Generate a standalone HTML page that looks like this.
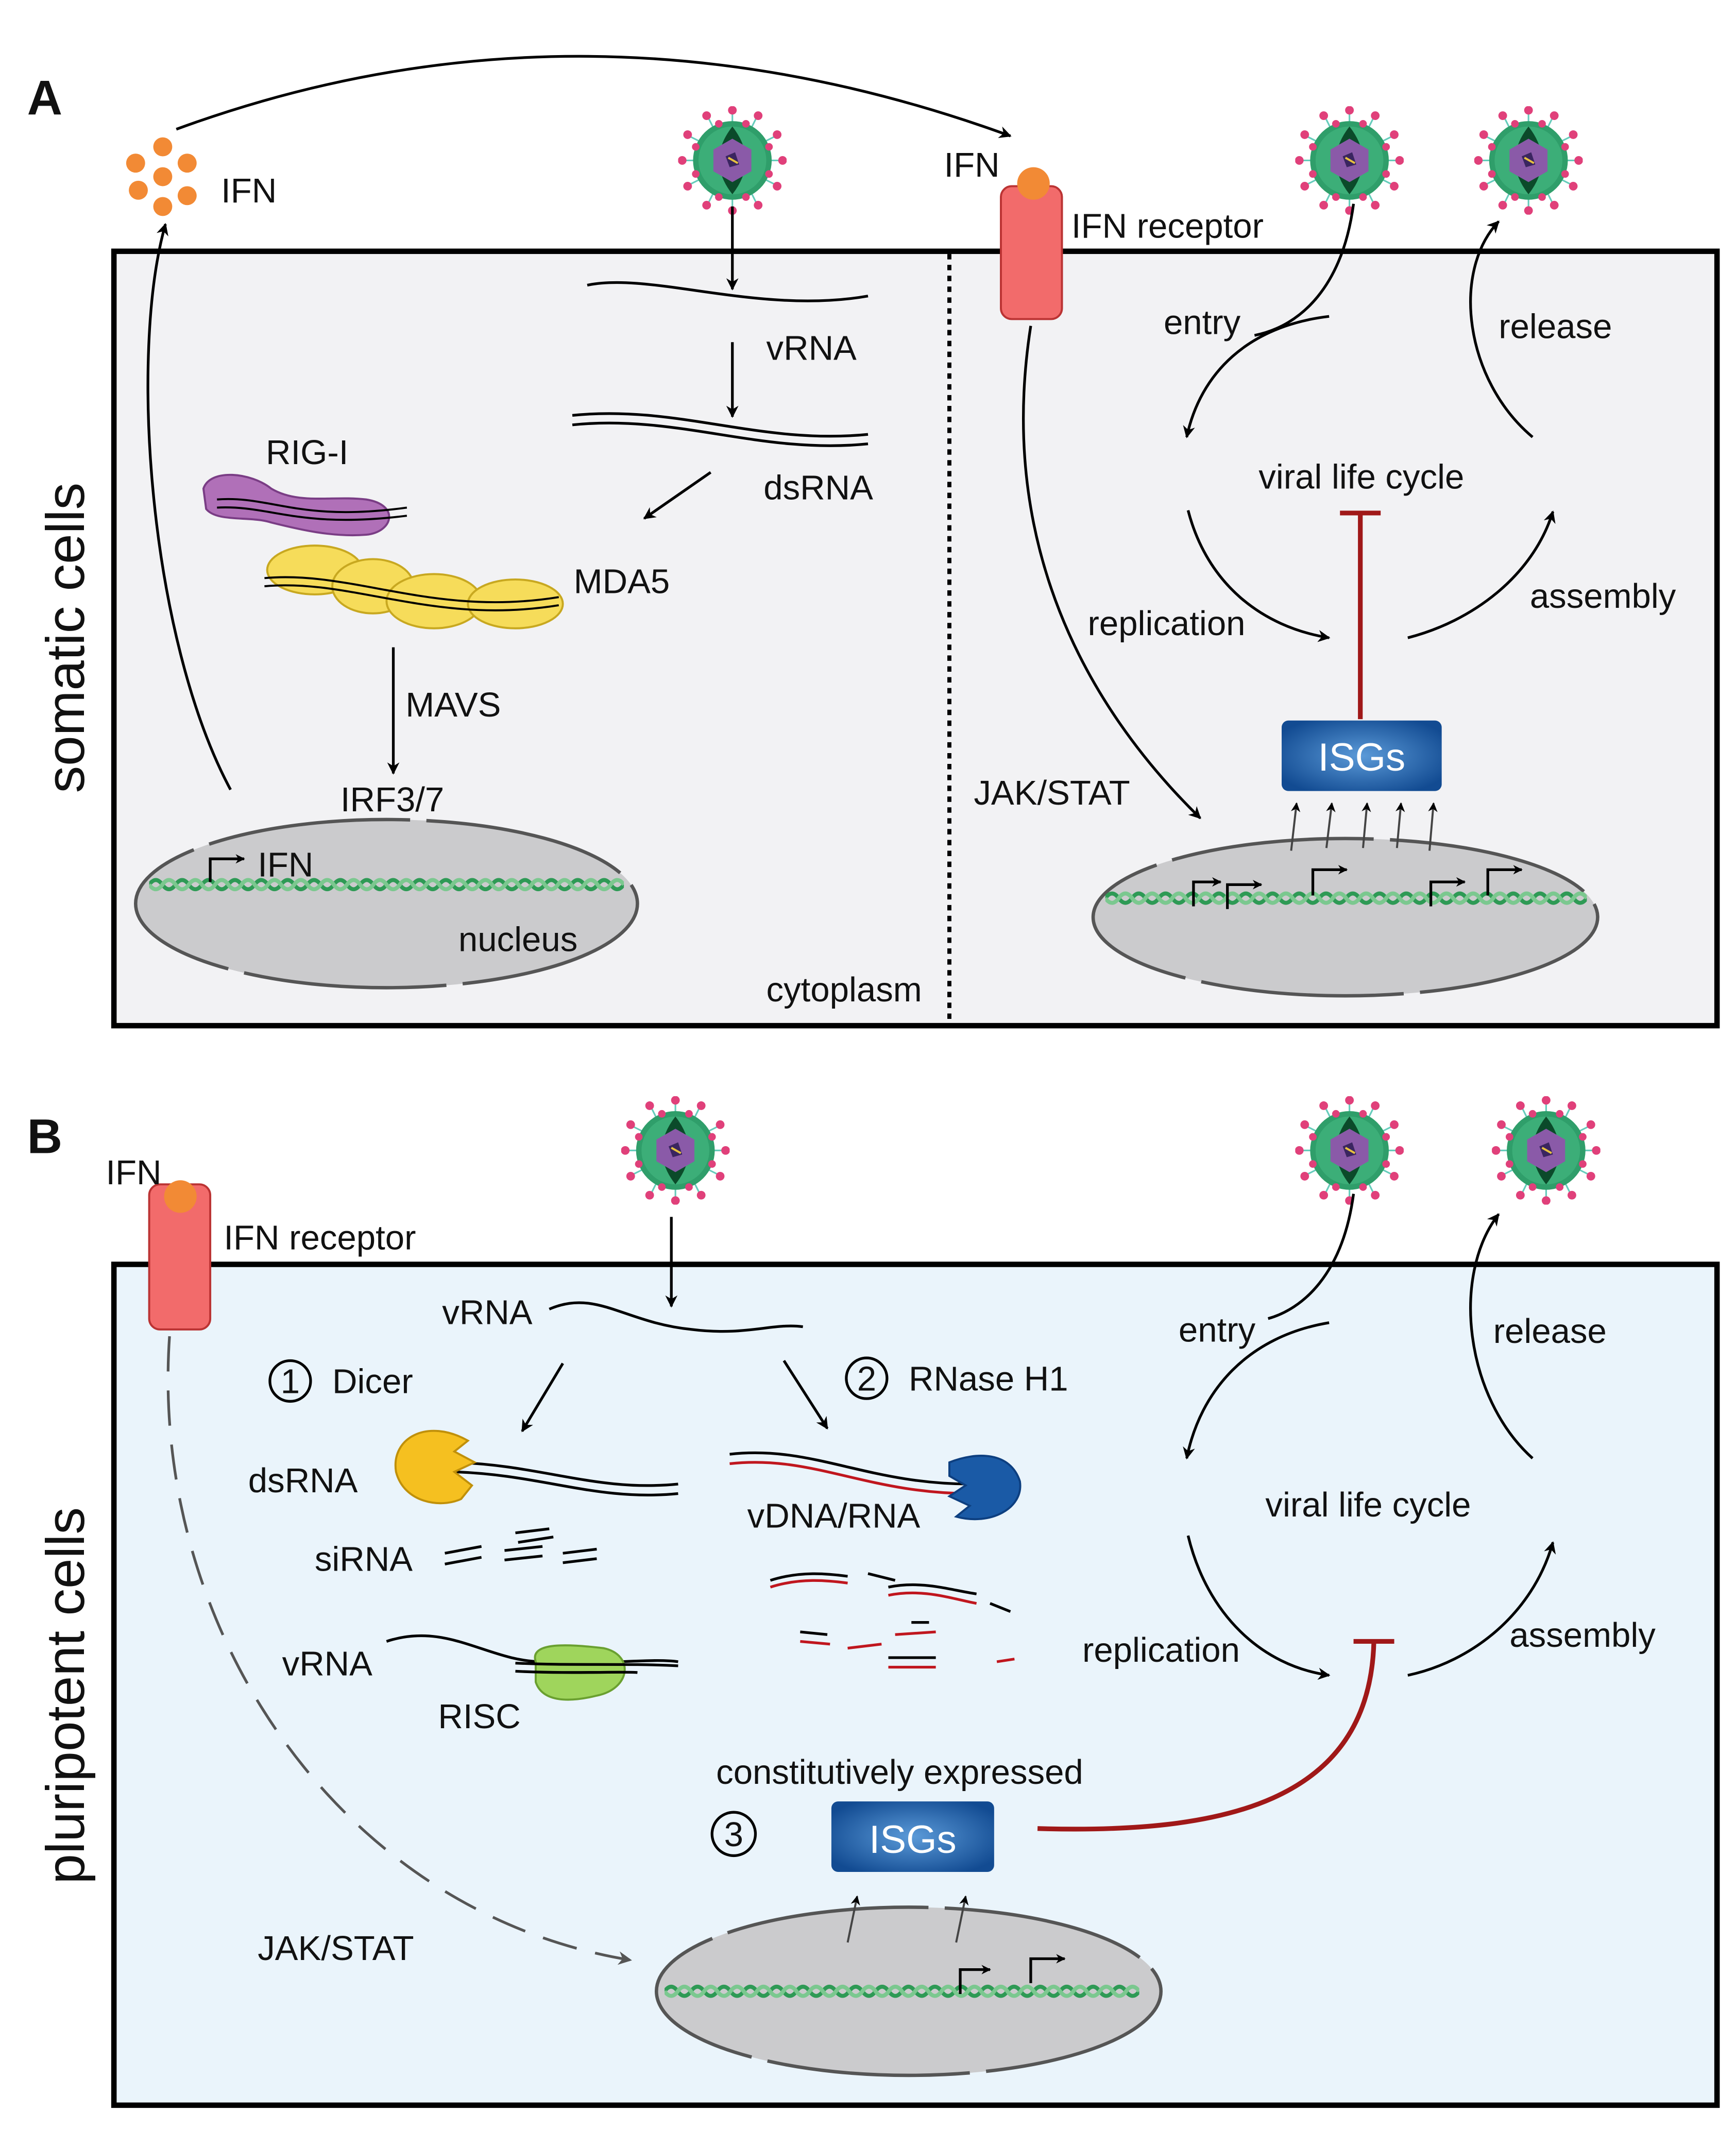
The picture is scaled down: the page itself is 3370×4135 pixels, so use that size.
<!DOCTYPE html>
<html><head><meta charset="utf-8"><style>
html,body{margin:0;padding:0;background:#fff}
svg{display:block}
text{font-family:"Liberation Sans",sans-serif;fill:#111}
</style></head><body>
<svg width="3370" height="4135" viewBox="0 0 1280 1570" xmlns="http://www.w3.org/2000/svg">
<defs>
<marker id="ar" viewBox="0 0 10 10" refX="9" refY="5" markerWidth="9" markerHeight="9" markerUnits="userSpaceOnUse" orient="auto"><path d="M0,0 L10,5 L0,10 L3,5 z" fill="#000"/></marker>
<marker id="arg" viewBox="0 0 10 10" refX="9" refY="5" markerWidth="10" markerHeight="10" markerUnits="userSpaceOnUse" orient="auto"><path d="M0,0 L10,5 L0,10 L3,5 z" fill="#555"/></marker>
<marker id="ars" viewBox="0 0 10 10" refX="9" refY="5" markerWidth="7" markerHeight="7" markerUnits="userSpaceOnUse" orient="auto"><path d="M0,0 L10,5 L0,10 L3,5 z" fill="#000"/></marker>
<radialGradient id="isgr" cx="0.5" cy="0.5" r="0.6"><stop offset="0" stop-color="#5b9ad8"/><stop offset="1" stop-color="#124b92"/></radialGradient>
<symbol id="virus" viewBox="-40 -40 80 80">
<g stroke="#6cb" stroke-width="1.2">
<line x1="0" y1="-28" x2="0" y2="-36"/><line x1="14" y1="-24" x2="18" y2="-32"/><line x1="24" y1="-14" x2="32" y2="-18"/><line x1="28" y1="0" x2="36" y2="0"/><line x1="24" y1="14" x2="32" y2="18"/><line x1="14" y1="24" x2="18" y2="32"/><line x1="0" y1="28" x2="0" y2="36"/><line x1="-14" y1="24" x2="-18" y2="32"/><line x1="-24" y1="14" x2="-32" y2="18"/><line x1="-28" y1="0" x2="-36" y2="0"/><line x1="-24" y1="-14" x2="-32" y2="-18"/><line x1="-14" y1="-24" x2="-18" y2="-32"/>
</g>
<circle r="29" fill="#2f9e6a"/><circle r="25" fill="#3cae78"/>
<path d="M0,-25 Q-14,0 0,25 Q14,0 0,-25" fill="#0b4a2a" transform="scale(1.4,1)"/>
<polygon points="0,-16 14,-8 14,8 0,16 -14,8 -14,-8" fill="#8a5aa8"/>
<path d="M-5,-3 L2,-6 L5,3 L-2,5z" fill="#3a2560"/><path d="M-3,-2 L4,2" stroke="#e6c040" stroke-width="1.5"/>
<g fill="#e0407a">
<circle cx="0" cy="-37" r="3.2"/><circle cx="19" cy="-33" r="3.2"/><circle cx="33" cy="-19" r="3.2"/><circle cx="37" cy="0" r="3.2"/><circle cx="33" cy="19" r="3.2"/><circle cx="19" cy="33" r="3.2"/><circle cx="0" cy="37" r="3.2"/><circle cx="-19" cy="33" r="3.2"/><circle cx="-33" cy="19" r="3.2"/><circle cx="-37" cy="0" r="3.2"/><circle cx="-33" cy="-19" r="3.2"/><circle cx="-19" cy="-33" r="3.2"/>
<circle cx="-10" cy="-27" r="2.8"/><circle cx="10" cy="-27" r="2.8"/><circle cx="27" cy="-10" r="2.8"/><circle cx="27" cy="10" r="2.8"/><circle cx="-27" cy="10" r="2.8"/><circle cx="-27" cy="-10" r="2.8"/><circle cx="10" cy="27" r="2.8"/><circle cx="-10" cy="27" r="2.8"/>
</g>
</symbol>
<symbol id="dna" viewBox="0 0 360 20">
<path d="M0,10 q5,-7 10,0 t10,0 t10,0 t10,0 t10,0 t10,0 t10,0 t10,0 t10,0 t10,0 t10,0 t10,0 t10,0 t10,0 t10,0 t10,0 t10,0 t10,0 t10,0 t10,0 t10,0 t10,0 t10,0 t10,0 t10,0 t10,0 t10,0 t10,0 t10,0 t10,0 t10,0 t10,0 t10,0 t10,0 t10,0 t10,0" fill="none" stroke="#2e9a55" stroke-width="3"/>
<path d="M0,10 q5,7 10,0 t10,0 t10,0 t10,0 t10,0 t10,0 t10,0 t10,0 t10,0 t10,0 t10,0 t10,0 t10,0 t10,0 t10,0 t10,0 t10,0 t10,0 t10,0 t10,0 t10,0 t10,0 t10,0 t10,0 t10,0 t10,0 t10,0 t10,0 t10,0 t10,0 t10,0 t10,0 t10,0 t10,0 t10,0 t10,0" fill="none" stroke="#7bc88f" stroke-width="3"/>
</symbol>
</defs>

<text x="20" y="84" font-size="36" font-weight="bold">A</text>
<text x="20" y="850" font-size="36" font-weight="bold">B</text>

<rect x="84" y="185" width="1182" height="571" fill="#f2f2f4" stroke="#000" stroke-width="4"/>
<rect x="84" y="932" width="1182" height="620" fill="#eaf4fb" stroke="#000" stroke-width="4"/>
<line x1="700" y1="187" x2="700" y2="752" stroke="#000" stroke-width="3" stroke-dasharray="4,4"/>

<text transform="translate(62,470) rotate(-90)" font-size="40" text-anchor="middle">somatic cells</text>
<text transform="translate(62,1250) rotate(-90)" font-size="40" text-anchor="middle">pluripotent cells</text>

<g fill="#cbcbcd" stroke="#555" stroke-width="2.5" stroke-dasharray="150,12">
<ellipse cx="285" cy="666" rx="185" ry="62"/>
<ellipse cx="992" cy="676" rx="186" ry="58"/>
<ellipse cx="670" cy="1468" rx="186" ry="62"/>
</g>
<use href="#dna" x="110" y="642" width="350" height="20"/>
<use href="#dna" x="815" y="652" width="355" height="20"/>
<use href="#dna" x="490" y="1458" width="350" height="20"/>

<g fill="none" stroke="#000" stroke-width="2" marker-end="url(#ars)">
<path d="M155,650 V633 H180"/>
<path d="M880,668 V650 H900"/><path d="M905,670 V652 H930"/><path d="M968,660 V641 H993"/><path d="M1055,668 V650 H1080"/><path d="M1097,660 V641 H1122"/>
<path d="M708,1470 V1452 H730"/><path d="M760,1462 V1444 H785"/>
</g>

<use href="#virus" x="500" y="78" width="80" height="80"/>
<use href="#virus" x="955" y="78" width="80" height="80"/>
<use href="#virus" x="1087" y="78" width="80" height="80"/>
<use href="#virus" x="458" y="808" width="80" height="80"/>
<use href="#virus" x="955" y="808" width="80" height="80"/>
<use href="#virus" x="1100" y="808" width="80" height="80"/>

<g fill="#f28a35">
<circle cx="100" cy="120" r="7"/><circle cx="120" cy="108" r="7"/><circle cx="102" cy="140" r="7"/><circle cx="120" cy="130" r="7"/><circle cx="138" cy="120" r="7"/><circle cx="120" cy="152" r="7"/><circle cx="138" cy="144" r="7"/>
</g>
<text x="163" y="149" font-size="25.5">IFN</text>

<rect x="738" y="137" width="45" height="98" rx="8" fill="#f26b6b" stroke="#b33" stroke-width="1.5"/>
<circle cx="762" cy="135" r="12" fill="#f28a35"/>
<text x="696" y="130" font-size="25.5">IFN</text>
<text x="790" y="175" font-size="25.5">IFN receptor</text>
<rect x="110" y="873" width="45" height="107" rx="8" fill="#f26b6b" stroke="#b33" stroke-width="1.5"/>
<circle cx="133" cy="882" r="12" fill="#f28a35"/>
<text x="78" y="873" font-size="25.5">IFN</text>
<text x="165" y="921" font-size="25.5">IFN receptor</text>

<g fill="none" stroke="#000" stroke-width="2" marker-end="url(#ar)">
<path d="M130,95 Q430,-15 745,100"/>
<path d="M170,582 C110,470 95,260 122,165"/>
<path d="M540,152 V213"/>
<path d="M540,252 V307"/>
<path d="M524,348 L475,382"/>
<path d="M290,477 V570"/>
<path d="M760,240 C735,400 800,520 885,603"/>
<path d="M980,233 C920,240 885,275 875,322"/>
<path d="M1130,322 C1080,280 1070,200 1105,163"/>
<path d="M876,376 C890,430 930,462 980,470"/>
<path d="M1038,470 C1085,458 1130,425 1145,377"/>
</g>
<path d="M998,150 C990,210 960,240 925,247" fill="none" stroke="#000" stroke-width="2"/>
<g fill="none" stroke="#444" stroke-width="1.5" marker-end="url(#ars)">
<path d="M952,627 L956,592"/><path d="M978,625 L982,592"/><path d="M1005,625 L1008,592"/><path d="M1030,625 L1033,592"/><path d="M1054,627 L1057,592"/>
<path d="M625,1432 L632,1398"/><path d="M705,1432 L712,1398"/>
</g>

<path d="M433,210 C480,200 560,232 640,218" fill="none" stroke="#000" stroke-width="2"/>
<path d="M422,306 C500,298 560,328 640,320" fill="none" stroke="#000" stroke-width="2"/>
<path d="M422,313 C500,305 560,335 640,327" fill="none" stroke="#000" stroke-width="2"/>

<path d="M150,360 C155,345 185,348 200,360 C220,372 245,365 270,368 C295,372 290,392 270,394 C245,396 220,390 200,385 C185,380 160,385 152,375 Z" fill="#b070b8" stroke="#7a3d85" stroke-width="1.5"/>
<path d="M160,368 C200,365 220,385 300,374" fill="none" stroke="#000" stroke-width="1.5"/>
<path d="M160,374 C200,372 220,390 300,380" fill="none" stroke="#000" stroke-width="1.5"/>
<g fill="#f6dc5a" stroke="#c8a820" stroke-width="1.5">
<ellipse cx="232" cy="420" rx="35" ry="18"/><ellipse cx="275" cy="432" rx="30" ry="20"/><ellipse cx="320" cy="443" rx="35" ry="20"/><ellipse cx="380" cy="445" rx="35" ry="18"/>
</g>
<path d="M195,426 C260,420 320,455 412,440" fill="none" stroke="#000" stroke-width="1.5"/>
<path d="M195,432 C260,426 320,461 412,446" fill="none" stroke="#000" stroke-width="1.5"/>

<g font-size="25.5">
<text x="565" y="265">vRNA</text>
<text x="563" y="368">dsRNA</text>
<text x="196" y="342">RIG-I</text>
<text x="423" y="437">MDA5</text>
<text x="299" y="528">MAVS</text>
<text x="251" y="598">IRF3/7</text>
<text x="190" y="646">IFN</text>
<text x="338" y="701">nucleus</text>
<text x="565" y="738">cytoplasm</text>
<text x="718" y="593">JAK/STAT</text>
<text x="858" y="246">entry</text>
<text x="1105" y="249">release</text>
<text x="928" y="360">viral life cycle</text>
<text x="802" y="468">replication</text>
<text x="1128" y="448">assembly</text>
</g>

<rect x="945" y="531" width="118" height="52" rx="5" fill="url(#isgr)"/>
<text x="1004" y="568" font-size="29" text-anchor="middle" style="fill:#fff">ISGs</text>
<path d="M1003,530 V378 M988,378 H1018" stroke="#a01818" stroke-width="3.5" fill="none"/>

<g fill="none" stroke="#000" stroke-width="2" marker-end="url(#ar)">
<path d="M495,897 V963"/>
<path d="M415,1005 L385,1055"/>
<path d="M578,1003 L610,1053"/>
<path d="M980,975 C920,985 885,1025 875,1075"/>
<path d="M1130,1075 C1080,1030 1070,940 1105,895"/>
<path d="M876,1132 C890,1190 930,1228 980,1235"/>
<path d="M1038,1235 C1085,1225 1130,1190 1145,1137"/>
</g>
<path d="M998,880 C990,940 960,965 935,972" fill="none" stroke="#000" stroke-width="2"/>
<path d="M125,985 C110,1200 250,1410 465,1445" fill="none" stroke="#555" stroke-width="2" stroke-dasharray="26,14" marker-end="url(#arg)"/>
<path d="M765,1348 C900,1352 1010,1330 1013,1210 M998,1210 H1028" stroke="#a01818" stroke-width="3.5" fill="none"/>

<path d="M405,965 C440,950 460,975 510,980 C550,985 570,975 592,978" fill="none" stroke="#000" stroke-width="2"/>
<path d="M335,1078 C400,1080 440,1100 500,1094" fill="none" stroke="#000" stroke-width="2"/>
<path d="M335,1085 C400,1087 440,1107 500,1101" fill="none" stroke="#000" stroke-width="2"/>
<path d="M345,1062 L335,1070 L350,1078 L335,1085 L348,1095 L340,1105 C325,1112 298,1108 292,1085 C288,1060 315,1045 345,1062 Z" fill="#f5c020" stroke="#c0900a" stroke-width="1.5"/>
<path d="M538,1072 C600,1065 640,1095 720,1094" fill="none" stroke="#000" stroke-width="2"/>
<path d="M538,1079 C600,1072 640,1102 720,1101" fill="none" stroke="#c0161e" stroke-width="2"/>
<path d="M700,1078 C720,1070 745,1070 752,1092 C755,1112 730,1125 705,1118 L715,1110 L700,1103 L712,1095 L700,1088 Z" fill="#1a5aa6" stroke="#0d3f80" stroke-width="1.5"/>
<g stroke="#000" stroke-width="2">
<line x1="328" y1="1145" x2="355" y2="1140"/><line x1="328" y1="1153" x2="355" y2="1148"/>
<line x1="372" y1="1143" x2="400" y2="1140"/><line x1="372" y1="1150" x2="400" y2="1147"/>
<line x1="380" y1="1130" x2="405" y2="1127"/><line x1="382" y1="1137" x2="408" y2="1133"/>
<line x1="415" y1="1145" x2="440" y2="1142"/><line x1="415" y1="1152" x2="440" y2="1149"/>
</g>
<g stroke-width="2" fill="none">
<path d="M568,1165 C590,1158 610,1160 625,1162" stroke="#000"/><path d="M568,1170 C590,1163 610,1165 625,1167" stroke="#c0161e"/>
<path d="M655,1170 C680,1165 700,1172 720,1175" stroke="#000"/><path d="M655,1176 C680,1171 700,1178 720,1182" stroke="#c0161e"/>
<path d="M640,1160 L660,1165" stroke="#000"/><path d="M730,1182 L745,1188" stroke="#000"/>
<path d="M590,1203 L610,1205" stroke="#000"/><path d="M590,1210 L612,1212" stroke="#c0161e"/>
<path d="M625,1215 L650,1212" stroke="#c0161e"/><path d="M660,1205 L690,1203" stroke="#c0161e"/>
<path d="M655,1222 L690,1222" stroke="#000"/><path d="M655,1229 L690,1229" stroke="#c0161e"/>
<path d="M672,1196 L685,1196" stroke="#000"/><path d="M735,1225 L748,1223" stroke="#c0161e"/>
</g>
<path d="M285,1210 C330,1195 360,1225 400,1225 C440,1228 480,1222 500,1225" fill="none" stroke="#000" stroke-width="2"/>
<path d="M395,1225 C390,1210 420,1212 445,1215 C468,1220 465,1245 440,1250 C420,1255 400,1255 395,1240 Z" fill="#9fd55c" stroke="#6aa030" stroke-width="1.5"/>
<path d="M380,1226 C420,1228 460,1226 500,1228" fill="none" stroke="#000" stroke-width="2"/>
<path d="M380,1232 C420,1234 460,1232 470,1233" fill="none" stroke="#000" stroke-width="2"/>

<g font-size="25.5">
<text x="326" y="976">vRNA</text>
<circle cx="214" cy="1018" r="15" fill="none" stroke="#000" stroke-width="2"/><text x="214" y="1027" text-anchor="middle">1</text>
<text x="245" y="1027">Dicer</text>
<circle cx="639" cy="1016" r="15" fill="none" stroke="#000" stroke-width="2"/><text x="639" y="1025" text-anchor="middle">2</text>
<text x="670" y="1025">RNase H1</text>
<text x="183" y="1100">dsRNA</text>
<text x="551" y="1126">vDNA/RNA</text>
<text x="232" y="1158">siRNA</text>
<text x="208" y="1235">vRNA</text>
<text x="323" y="1274">RISC</text>
<text x="528" y="1315">constitutively expressed</text>
<circle cx="541" cy="1352" r="16" fill="none" stroke="#000" stroke-width="2"/><text x="541" y="1361" text-anchor="middle">3</text>
<text x="190" y="1445">JAK/STAT</text>
<text x="869" y="989">entry</text>
<text x="1101" y="990">release</text>
<text x="933" y="1118">viral life cycle</text>
<text x="798" y="1225">replication</text>
<text x="1113" y="1214">assembly</text>
</g>
<rect x="613" y="1328" width="120" height="52" rx="5" fill="url(#isgr)"/>
<text x="673" y="1366" font-size="29" text-anchor="middle" style="fill:#fff">ISGs</text>
</svg>
</body></html>
